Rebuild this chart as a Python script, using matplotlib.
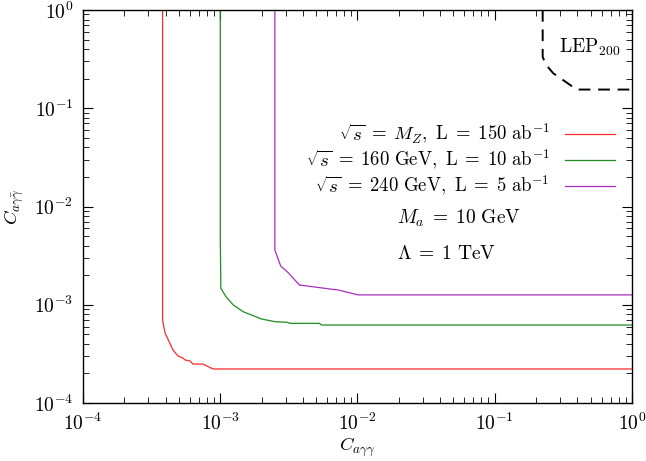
import numpy as np
import matplotlib
matplotlib.use("Agg")
import matplotlib.pyplot as plt

plt.rcParams['font.family'] = 'serif'
plt.rcParams['font.serif'] = ['cmr10']
plt.rcParams['mathtext.fontset'] = 'cm'
plt.rcParams['axes.formatter.use_mathtext'] = True

# sqrt(s) = M_Z, L = 150 ab^-1
red_x = [3.8e-4, 3.8e-4, 3.8e-4, 3.96e-4, 4.53e-4, 4.92e-4, 5.35e-4, 5.54e-4, 6.02e-4,
         6.33e-4, 7.49e-4, 8.0e-4, 8.85e-4, 1.0]
red_y = [1.0, 1.0e-3, 7.0e-4, 5.16e-4, 3.46e-4, 3.01e-4, 2.87e-4, 2.74e-4, 2.68e-4,
         2.49e-4, 2.49e-4, 2.38e-4, 2.22e-4, 2.22e-4]

# sqrt(s) = 160 GeV, L = 10 ab^-1
green_x = [1.0e-3, 1.0e-3, 1.01e-3, 1.10e-3, 1.245e-3, 1.47e-3, 2.0e-3, 2.51e-3,
           3.08e-3, 3.22e-3, 5.27e-3, 5.48e-3, 1.0]
green_y = [1.0, 5.0e-3, 1.47e-3, 1.21e-3, 9.94e-4, 8.49e-4, 7.16e-4, 6.72e-4,
           6.63e-4, 6.47e-4, 6.47e-4, 6.22e-4, 6.22e-4]

# sqrt(s) = 240 GeV, L = 5 ab^-1
purple_x = [2.5e-3, 2.5e-3, 2.757e-3, 3.13e-3, 3.77e-3, 6.31e-3, 7.25e-3, 1.01e-2, 1.0]
purple_y = [1.0, 3.61e-3, 2.48e-3, 2.12e-3, 1.59e-3, 1.446e-3, 1.413e-3, 1.26e-3, 1.26e-3]

# LEP200 bound
lep_x = [0.2235, 0.2235, 0.235, 0.267, 0.33, 0.395, 1.0]
lep_y = [1.0, 0.334, 0.28, 0.2267, 0.185, 0.155, 0.155]

labels = [r'$\sqrt{s} \;=\; M_Z,\ \mathrm{L} \;=\; 150\ \mathrm{ab}^{-1}$',
          r'$\sqrt{s} \;=\; 160\ \mathrm{GeV},\ \mathrm{L} \;=\; 10\ \mathrm{ab}^{-1}$',
          r'$\sqrt{s} \;=\; 240\ \mathrm{GeV},\ \mathrm{L} \;=\; 5\ \mathrm{ab}^{-1}$']

fig = plt.figure(figsize=(6.46, 4.61), dpi=100)
ax = fig.add_axes([0.1285, 0.1258, 0.8498, 0.8525])

ax.plot(red_x, red_y, color='#ff2a2a', lw=0.9, label=labels[0])
ax.plot(green_x, green_y, color='#1f8c1f', lw=0.9, label=labels[1])
ax.plot(purple_x, purple_y, color='#a530c0', lw=0.9, label=labels[2])
ax.plot(lep_x, lep_y, color='black', lw=1.4, dashes=(6, 4))

ax.set_xscale('log')
ax.set_yscale('log')
ax.set_xlim(1e-4, 1)
ax.set_ylim(1e-4, 1)

ax.tick_params(which='both', direction='in', top=True, right=True, labelsize=14, pad=7)
ax.tick_params(which='major', length=7, width=0.8)
ax.tick_params(which='minor', length=4, width=0.6)
for s in ax.spines.values():
    s.set_linewidth(1.0)

ax.set_xlabel(r'$C_{a\gamma\gamma}$', fontsize=13.5, labelpad=1)
ax.set_ylabel(r'$C_{a\gamma\bar{\gamma}}$', fontsize=13.5, labelpad=6)

ax.legend(loc='upper right', bbox_to_anchor=(0.969, 0.715), frameon=False,
          markerfirst=False, fontsize=13.5, handlelength=2.67, handletextpad=0.8,
          labelspacing=0.1, borderpad=0, borderaxespad=0)

ax.text(0.572, 0.471, r'$M_a \;=\; 10\ \mathrm{GeV}$', transform=ax.transAxes,
        fontsize=14, ha='left', va='center')
ax.text(0.572, 0.379, r'$\Lambda \;=\; 1\ \mathrm{TeV}$', transform=ax.transAxes,
        fontsize=14, ha='left', va='center')
ax.text(0.9235, 0.906, r'$\mathrm{LEP}_{200}$', transform=ax.transAxes,
        fontsize=14, ha='center', va='center')

fig.savefig('out.png', dpi=100)
